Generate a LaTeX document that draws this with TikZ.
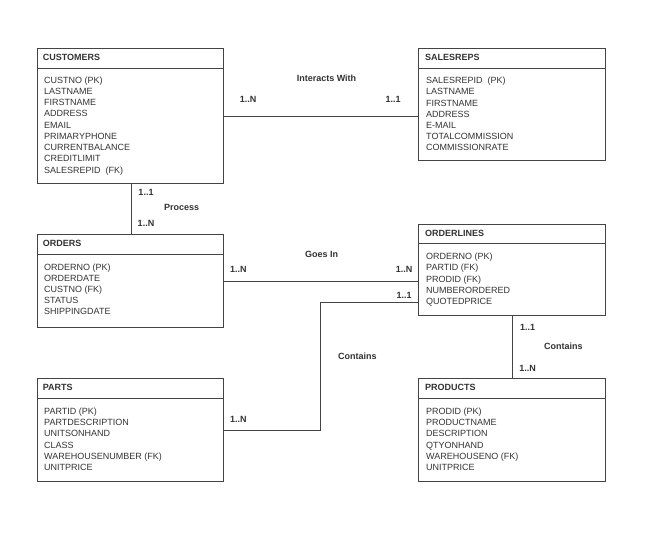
\documentclass[tikz,border=0pt]{standalone}
\usepackage{fontspec}
\setmainfont{Liberation Sans}
\definecolor{txt}{HTML}{333333}
\definecolor{ln}{HTML}{444444}
\begin{document}
\begin{tikzpicture}[x=1pt,y=-1pt,
  ebox/.style={draw=ln, line width=0.8pt, anchor=north west, inner sep=0pt},
  etitle/.style={anchor=west, font=\bfseries\fontsize{9}{10}\selectfont, text=txt, inner sep=0pt, text height=6.5pt, text depth=0pt},
  attr/.style={anchor=base west, font=\fontsize{9}{10}\selectfont, text=txt, inner sep=0pt},
  rel/.style={font=\bfseries\fontsize{9}{10}\selectfont, text=txt, inner sep=0pt, text height=6.5pt, text depth=0pt},
  conn/.style={draw=ln, line width=0.8pt}]
\useasboundingbox (0,0) rectangle (671,549);
\fill[white] (0,0) rectangle (671,549);

% CUSTOMERS
\node[ebox, minimum width=186pt, minimum height=135pt] (cust) at (37,48) {};
\node[etitle] (custT) at (42.7,57) {CUSTOMERS};
\draw[conn] (cust.west |- 0,68) -- (cust.east |- 0,68);
\foreach \t [count=\i] in {CUSTNO (PK),LASTNAME,FIRSTNAME,ADDRESS,EMAIL,PRIMARYPHONE,CURRENTBALANCE,CREDITLIMIT,SALESREPID\ \ (FK)}
  \node[attr] (custA\i) at (44,{83.2+11.25*(\i-1)}) {\t};

% SALESREPS
\node[ebox, minimum width=187pt, minimum height=112pt] (sales) at (418,48) {};
\node[etitle] (salesT) at (425,57.5) {SALESREPS};
\draw[conn] (sales.west |- 0,68) -- (sales.east |- 0,68);
\foreach \t [count=\i] in {SALESREPID\ \ (PK),LASTNAME,FIRSTNAME,ADDRESS,E-MAIL,TOTALCOMMISSION,COMMISSIONRATE}
  \node[attr] (salesA\i) at (426,{83.6+11.2*(\i-1)}) {\t};

% ORDERS
\node[ebox, minimum width=186pt, minimum height=93pt] (orders) at (37,234) {};
\node[etitle] (ordersT) at (42.7,243) {ORDERS};
\draw[conn] (orders.west |- 0,254) -- (orders.east |- 0,254);
\foreach \t [count=\i] in {ORDERNO (PK),ORDERDATE,CUSTNO (FK),STATUS,SHIPPINGDATE}
  \node[attr] (ordersA\i) at (44,{270.5+11*(\i-1)}) {\t};

% ORDERLINES
\node[ebox, minimum width=187pt, minimum height=91pt] (ol) at (418,224) {};
\node[etitle] (olT) at (425,233) {ORDERLINES};
\draw[conn] (ol.west |- 0,243) -- (ol.east |- 0,243);
\foreach \t [count=\i] in {ORDERNO (PK),PARTID (FK),PRODID (FK),NUMBERORDERED,QUOTEDPRICE}
  \node[attr] (olA\i) at (426,{259.6+11.25*(\i-1)}) {\t};

% PARTS
\node[ebox, minimum width=186pt, minimum height=103pt] (parts) at (37,378) {};
\node[etitle] (partsT) at (42.7,387.3) {PARTS};
\draw[conn] (parts.west |- 0,398) -- (parts.east |- 0,398);
\foreach \t [count=\i] in {PARTID (PK),PARTDESCRIPTION,UNITSONHAND,CLASS,WAREHOUSENUMBER (FK),UNITPRICE}
  \node[attr] (partsA\i) at (44,{414.2+11.35*(\i-1)}) {\t};

% PRODUCTS
\node[ebox, minimum width=187pt, minimum height=103pt] (prod) at (418,378) {};
\node[etitle] (prodT) at (425,387.3) {PRODUCTS};
\draw[conn] (prod.west |- 0,398) -- (prod.east |- 0,398);
\foreach \t [count=\i] in {PRODID (PK),PRODUCTNAME,DESCRIPTION,QTYONHAND,WAREHOUSENO (FK),UNITPRICE}
  \node[attr] (prodA\i) at (426,{414.2+11.35*(\i-1)}) {\t};

% connectors
\coordinate (procX) at (131,0);
\coordinate (partsX) at (320,302);
\coordinate (prodX) at (512,0);
\draw[conn] (cust.east) -- (cust.east -| sales.west);
\draw[conn] (cust.south -| procX) -- (orders.north -| procX);
\draw[conn] (orders.east) -- (orders.east -| ol.west);
\draw[conn] (ol.west |- partsX) -- (partsX) |- (parts.east);
\draw[conn] (ol.south -| prodX) -- (prod.north -| prodX);

% labels
\node[rel] (l1) at (326.5,78.3) {Interacts With};
\node[rel] (l1a) at (248,99.3) {1..N};
\node[rel] (l1b) at (393,99.3) {1..1};
\node[rel] (l2a) at (146,192.7) {1..1};
\node[rel] (l2) at (181.7,207.3) {Process};
\node[rel] (l2b) at (146,223.3) {1..N};
\node[rel] (l3) at (321.7,254) {Goes In};
\node[rel] (l3a) at (238.3,269.3) {1..N};
\node[rel] (l3b) at (404,269.3) {1..N};
\node[rel] (l4a) at (404,295) {1..1};
\node[rel] (l4) at (357.3,356.7) {Contains};
\node[rel] (l4b) at (238.3,419) {1..N};
\node[rel] (l5a) at (527.7,327.3) {1..1};
\node[rel] (l5) at (563.3,346.5) {Contains};
\node[rel] (l5b) at (527.7,368.3) {1..N};
\end{tikzpicture}
\end{document}
